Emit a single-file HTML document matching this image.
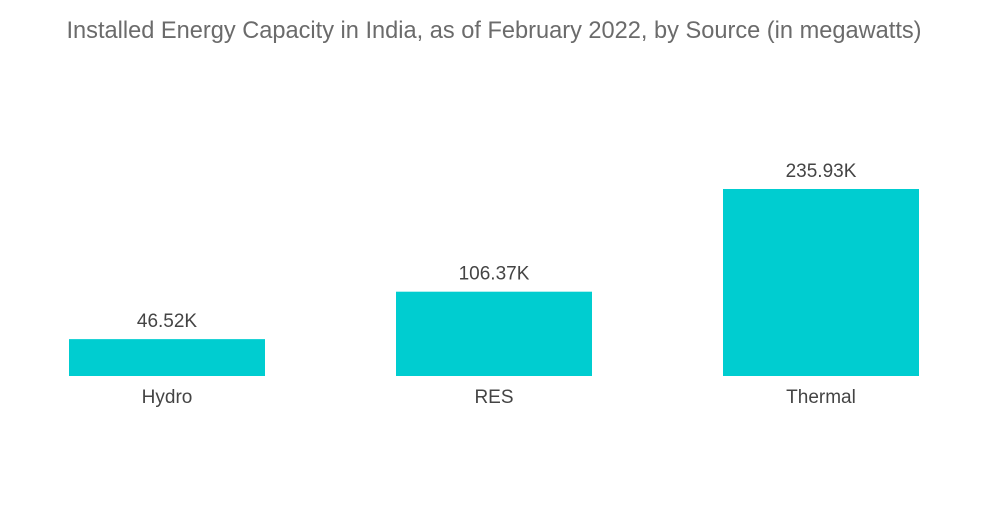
<!DOCTYPE html>
<html>
<head>
<meta charset="utf-8">
<style>
  html,body{margin:0;padding:0;background:#fff;}
  body{width:1000px;height:504px;overflow:hidden;font-family:"Liberation Sans",sans-serif;}
</style>
</head>
<body>
<svg id="chart" width="1000" height="504" xmlns="http://www.w3.org/2000/svg">
  <text x="494" y="38" text-anchor="middle" font-family="Liberation Sans, sans-serif" font-size="23.6" fill="#6b6b6b">Installed Energy Capacity in India, as of February 2022, by Source (in megawatts)</text>
  <g id="bars"></g>
</svg>
<script>
const categories = ["Hydro", "RES", "Thermal"];
const values = [46.52, 106.37, 235.93];
const valueLabels = ["46.52K", "106.37K", "235.93K"];

const baseline = 376, pxPerUnit = 187 / 235.93;
function y(v){ return baseline - v * pxPerUnit; }
const bandStart = 69, bandStep = 327, barW = 196;
function x(i){ return bandStart + i * bandStep; }

const g = document.getElementById('bars');
const NS = "http://www.w3.org/2000/svg";
categories.forEach((c, i) => {
  const r = document.createElementNS(NS, 'rect');
  
  
  r.setAttribute('x', x(i));
  r.setAttribute('y', y(values[i]));
  r.setAttribute('width', barW);
  r.setAttribute('height', baseline - y(values[i]));
  r.setAttribute('fill', '#00cdd0');
  g.appendChild(r);

  const vl = document.createElementNS(NS, 'text');
  
  
  vl.setAttribute('x', x(i) + barW / 2);
  vl.setAttribute('y', y(values[i]) - 12);
  vl.setAttribute('text-anchor', 'middle');
  vl.setAttribute('font-size', '19');
  vl.setAttribute('fill', '#444');
  vl.textContent = valueLabels[i];
  g.appendChild(vl);

  const cl = document.createElementNS(NS, 'text');
  
  
  cl.setAttribute('x', x(i) + barW / 2);
  cl.setAttribute('y', 403);
  cl.setAttribute('text-anchor', 'middle');
  cl.setAttribute('font-size', '19');
  cl.setAttribute('fill', '#444');
  cl.textContent = c;
  g.appendChild(cl);
});
</script>
</body>
</html>
